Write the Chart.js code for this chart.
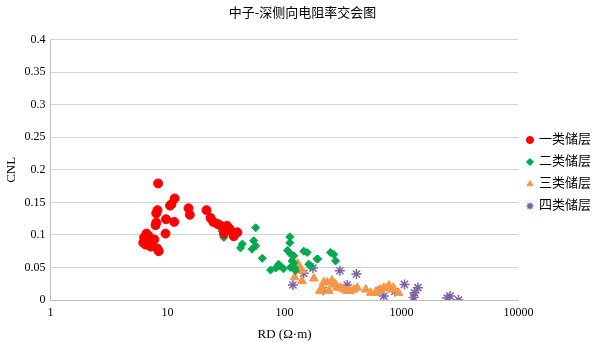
<!DOCTYPE html>
<html>
<head>
<meta charset="utf-8">
<script src="https://cdn.jsdelivr.net/npm/chart.js@4/dist/chart.umd.min.js"></script>
<style>
  html, body { margin: 0; padding: 0; background: #fff; }
  #wrap { width: 609px; height: 342px; }
</style>
</head>
<body>
<div id="wrap"><canvas id="cnlChart"></canvas></div>
<script>
// 一类储层
const class1RD = [8.3, 11.5, 10.8, 10.5, 8.2, 8.0, 9.7, 11.4, 8.0, 7.9, 9.6, 6.6, 6.3, 6.9, 7.7, 6.5, 7.2, 8.2, 8.4, 6.2, 6.7, 7.4,
  15.1, 15.5, 21.5, 23.3, 24.6, 26.6, 28.0, 32.2, 34.0, 35.7, 39.5, 36.8, 30.3];
const class1CNL = [0.179, 0.156, 0.147, 0.145, 0.138, 0.133, 0.124, 0.12, 0.119, 0.115, 0.102, 0.102, 0.096, 0.098, 0.093, 0.085, 0.082, 0.079, 0.075, 0.088, 0.092, 0.09,
  0.141, 0.131, 0.138, 0.126, 0.12, 0.117, 0.115, 0.114, 0.109, 0.104, 0.104, 0.098, 0.102];

// 二类储层
const class2RD = [29.3, 30.3, 56.6, 43.6, 42, 54.5, 56.6, 52.7, 64.5, 75.9, 84, 89, 111, 111, 106, 112, 146, 156, 116, 112, 122, 161, 189, 247, 264, 273,
  120, 120, 124, 167, 192, 92, 98];
const class2CNL = [0.106, 0.096, 0.111, 0.086, 0.080, 0.091, 0.083, 0.078, 0.064, 0.046, 0.049, 0.055, 0.097, 0.088, 0.076, 0.071, 0.075, 0.073, 0.06, 0.05, 0.049, 0.055, 0.063, 0.073, 0.070, 0.060,
  0.068, 0.057, 0.045, 0.052, 0.063, 0.052, 0.048];

// 三类储层
const class3RD = [130, 135, 122, 141, 178, 200, 209, 231, 264, 300, 343, 203, 141, 254, 273, 280, 322, 365, 391, 418, 495, 622, 239, 216, 353, 660, 755, 826, 596, 706, 780, 850, 945, 545];
const class3CNL = [0.056, 0.049, 0.035, 0.029, 0.033, 0.014, 0.019, 0.027, 0.024, 0.019, 0.014, 0.014, 0.045, 0.030, 0.024, 0.019, 0.016, 0.014, 0.016, 0.019, 0.016, 0.014, 0.014, 0.027, 0.014, 0.016, 0.019, 0.016, 0.011, 0.019, 0.022, 0.019, 0.011, 0.011];

// 四类储层
const class4RD = [118, 146, 175, 297, 214, 343, 412, 640, 706, 875, 1060, 1380, 1290, 1270, 2460, 2600, 3070];
const class4CNL = [0.023, 0.041, 0.049, 0.045, 0.015, 0.023, 0.040, 0.014, 0.006, 0.013, 0.024, 0.019, 0.011, 0.004, 0.003, 0.006, 0.0];

const xTicks = [1, 10, 100, 1000, 10000];

const toPoints = (xs, ys) => xs.map((x, i) => ({ x: x, y: ys[i] }));

const serif = "'Liberation Serif', 'Noto Sans CJK SC', serif";

const ctx = document.getElementById("cnlChart").getContext("2d");
new Chart(ctx, {
  type: "scatter",
  data: {
    datasets: [
      {
        label: "一类储层",
        data: toPoints(class1RD, class1CNL),
        pointStyle: "circle",
        pointRadius: 4.5,
        backgroundColor: "#ff0000",
        borderColor: "#ff0000",
      },
      {
        label: "二类储层",
        data: toPoints(class2RD, class2CNL),
        pointStyle: "rectRot",
        pointRadius: 4,
        backgroundColor: "#00a84f",
        borderColor: "#00a84f",
      },
      {
        label: "三类储层",
        data: toPoints(class3RD, class3CNL),
        pointStyle: "triangle",
        pointRadius: 5,
        backgroundColor: "#f79646",
        borderColor: "#f79646",
      },
      {
        label: "四类储层",
        data: toPoints(class4RD, class4CNL),
        pointStyle: "star",
        pointRadius: 5,
        borderWidth: 1.5,
        backgroundColor: "#7f62a6",
        borderColor: "#7f62a6",
      },
    ],
  },
  options: {
    responsive: true,
    maintainAspectRatio: false,
    animation: false,
    layout: { padding: { left: 4, right: 8, top: 4, bottom: 0 } },
    plugins: {
      title: {
        display: true,
        text: "中子-深侧向电阻率交会图",
        color: "#000",
        font: { family: serif, size: 13, weight: "normal" },
        padding: { top: 2, bottom: 18 },
      },
      legend: {
        position: "right",
        labels: {
          usePointStyle: true,
          boxWidth: 5,
          boxHeight: 5,
          padding: 9,
          color: "#000",
          font: { family: serif, size: 13 },
        },
      },
      tooltip: { enabled: false },
    },
    scales: {
      x: {
        type: "logarithmic",
        min: 1,
        max: 10000,
        afterBuildTicks: (axis) => {
          axis.ticks = xTicks.map((v) => ({ value: v }));
        },
        grid: { display: false, drawTicks: false },
        border: { display: true, color: "#bfbfbf" },
        ticks: {
          color: "#000",
          padding: 6,
          font: { family: serif, size: 12 },
          callback: (v) => String(v),
        },
        title: {
          display: true,
          text: "RD (Ω·m)",
          color: "#000",
          padding: { top: 0, bottom: 0 },
          font: { family: serif, size: 13 },
        },
      },
      y: {
        min: 0,
        max: 0.4,
        ticks: {
          stepSize: 0.05,
          color: "#000",
          padding: 5,
          font: { family: serif, size: 12 },
          callback: (v) => String(Math.round(v * 100) / 100),
        },
        grid: { color: "#d4d4d4", drawTicks: false, lineWidth: 1 },
        border: { display: true, color: "#bfbfbf" },
        title: {
          display: true,
          text: "CNL",
          color: "#000",
          padding: { top: 0, bottom: 0 },
          font: { family: serif, size: 13 },
        },
      },
    },
  },
});
</script>
</body>
</html>
